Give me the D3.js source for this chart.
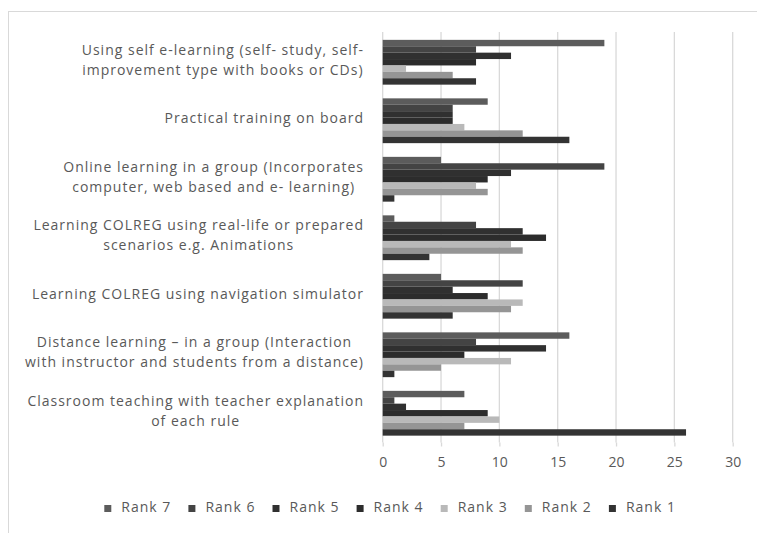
<!DOCTYPE html>
<html>
<head>
<meta charset="utf-8">
<script src="https://cdn.jsdelivr.net/npm/d3@7"></script>
<style>
  html, body { margin: 0; padding: 0; background: #fff; }
  svg { display: block; }
  text { font-family: "Open Sans", sans-serif; fill: #595959; }
</style>
</head>
<body>
<svg id="chart" width="757" height="533"></svg>
<script>
// ---- data ----
const categories = [
  ["Using self e-learning (self- study, self-", "improvement type with books or CDs)"],
  ["Practical training on board"],
  ["Online learning in a group (Incorporates", "computer, web based and e- learning)"],
  ["Learning COLREG using real-life or prepared", "scenarios e.g. Animations"],
  ["Learning COLREG using navigation simulator"],
  ["Distance learning \u2013 in a group (Interaction", "with instructor and students from a distance)"],
  ["Classroom teaching with teacher explanation", "of each rule"]
];
const seriesNames = ["Rank 7", "Rank 6", "Rank 5", "Rank 4", "Rank 3", "Rank 2", "Rank 1"];
const rank7 = [19, 9, 5, 1, 5, 16, 7];
const rank6 = [8, 6, 19, 8, 12, 8, 1];
const rank5 = [11, 6, 11, 12, 6, 14, 2];
const rank4 = [8, 6, 9, 14, 9, 7, 9];
const rank3 = [2, 7, 8, 11, 12, 11, 10];
const rank2 = [6, 12, 9, 12, 11, 5, 7];
const rank1 = [8, 16, 1, 4, 6, 1, 26];
const seriesValues = [rank7, rank6, rank5, rank4, rank3, rank2, rank1];
const seriesColors = ["#5c5c5c", "#444444", "#303030", "#2c2c2c", "#b9b9b9", "#959595", "#333333"];
const xTicks = [0, 5, 10, 15, 20, 25, 30];

// ---- layout ----
const svg = d3.select("#chart");
const plot = { left: 382.7, right: 732.7, top: 33, bottom: 442.5 };

svg.append("rect")
  .attr("x", 8.5).attr("y", 11.5)
  .attr("width", 800).attr("height", 600)
  .attr("fill", "none").attr("stroke", "#d9d9d9");

const x = d3.scaleLinear().domain([0, 30]).range([plot.left, plot.right]);
const catIdx = d3.range(categories.length);
const y = d3.scaleBand().domain(catIdx).range([plot.top, plot.bottom]).padding(0);
const pad = 6.85;
const yInner = d3.scaleBand().domain(seriesNames).range([pad, y.bandwidth() - pad]).padding(0);

// gridlines
svg.append("g").selectAll("line").data(xTicks).join("line")
  .attr("x1", d => x(d)).attr("x2", d => x(d))
  .attr("y1", plot.top - 1).attr("y2", plot.bottom)
  .attr("stroke", "#d9d9d9").attr("stroke-width", 1.3);

// bottom axis (ticks + labels, no domain line)
const axis = svg.append("g")
  .attr("transform", `translate(0,${plot.bottom})`)
  .call(d3.axisBottom(x).tickValues(xTicks).tickSize(4).tickPadding(11));
axis.select(".domain").remove();
axis.selectAll(".tick line").attr("stroke", "#d9d9d9").attr("stroke-width", 1.3);
axis.selectAll(".tick text")
  .style("font-family", '"Open Sans", sans-serif')
  .style("font-size", "14px").attr("fill", "#595959");

// bars
seriesNames.forEach((name, si) => {
  svg.append("g").selectAll("rect").data(seriesValues[si]).join("rect")
    .attr("x", x(0))
    .attr("y", (d, i) => y(i) + yInner(name))
    .attr("width", d => x(d) - x(0))
    .attr("height", yInner.bandwidth())
    .attr("fill", seriesColors[si]);
});

// category labels
const labelRight = 364;
const lineH = 20;
categories.forEach((lines, i) => {
  const g = svg.append("g");
  const cy = y(i) + y.bandwidth() / 2 - 1.5;
  const texts = lines.map((t, li) => g.append("text")
    .attr("text-anchor", "middle")
    .attr("dominant-baseline", "middle")
    .style("font-size", "14px")
    .style("letter-spacing", "1px")
    .attr("y", cy + (li - (lines.length - 1) / 2) * lineH)
    .text(t));
  const w = d3.max(texts, t => t.node().getComputedTextLength());
  texts.forEach(t => t.attr("x", labelRight - w / 2));
});

// legend
const legend = svg.append("g");
seriesNames.forEach((name, i) => {
  const lx = 104.3 + i * 84.1;
  legend.append("rect")
    .attr("x", lx).attr("y", 505).attr("width", 7).attr("height", 7)
    .attr("fill", seriesColors[i]);
  legend.append("text")
    .attr("x", lx + 17).attr("y", 508.5)
    .attr("dominant-baseline", "middle")
    .style("font-size", "14px")
    .style("letter-spacing", "1px")
    .text(name);
});
</script>
</body>
</html>
